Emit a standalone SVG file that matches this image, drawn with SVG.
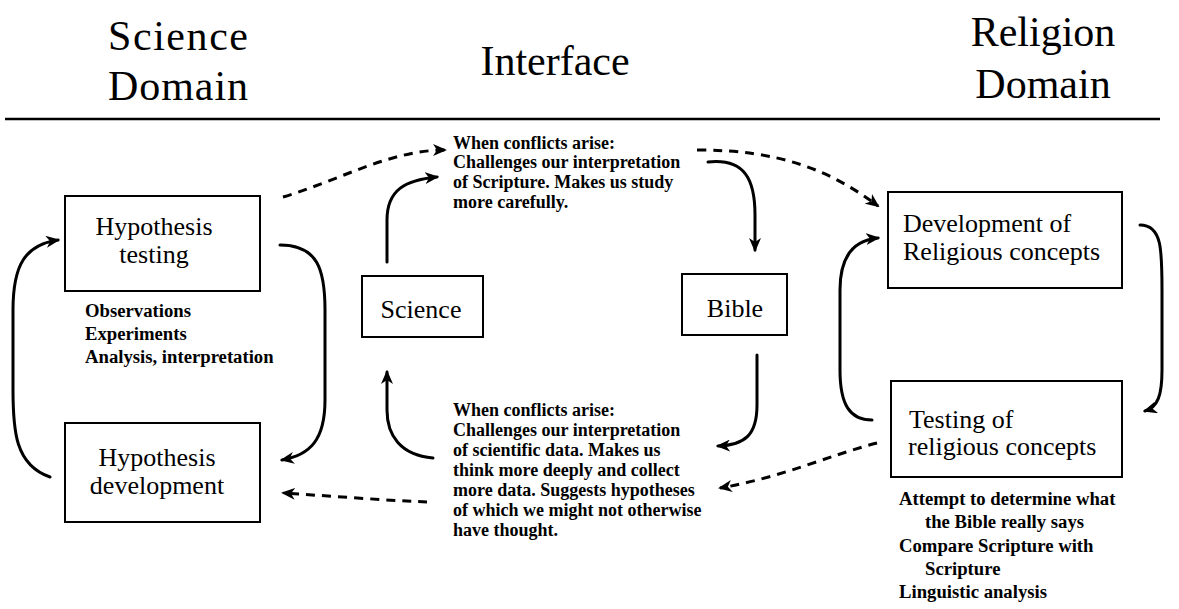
<svg xmlns="http://www.w3.org/2000/svg" width="1179" height="609" viewBox="0 0 1179 609">
<defs>
<style>
.title{font-family:"Liberation Serif","Times New Roman",serif;font-size:42px;fill:#000}
.box{fill:#fff;stroke:#000;stroke-width:2}
.bt{font-family:"Liberation Serif","Times New Roman",serif;font-size:26px;fill:#000}
.st{font-family:"Liberation Serif","Times New Roman",serif;font-size:18px;font-weight:bold;fill:#000}
.sm{font-family:"Liberation Serif","Times New Roman",serif;font-size:18.7px;font-weight:bold;fill:#000}
.c{fill:none;stroke:#000;stroke-width:3;stroke-linecap:round}
.d{fill:none;stroke:#000;stroke-width:3;stroke-dasharray:9 7}
</style>
<marker id="ah" viewBox="0 0 14 12" refX="12" refY="6" markerWidth="14" markerHeight="12" markerUnits="userSpaceOnUse" orient="auto">
<path d="M0,0 L14,6 L0,12 L4,6 z" fill="#000"/>
</marker>
</defs>
<rect width="1179" height="609" fill="#fff"/>
<g id="header">
<text class="title" x="108" y="50" textLength="140">Science</text>
<text class="title" x="108" y="100" textLength="140">Domain</text>
<text class="title" x="555" y="75" text-anchor="middle">Interface</text>
<text class="title" x="1043" y="46" text-anchor="middle">Religion</text>
<text class="title" x="1043" y="98" text-anchor="middle">Domain</text>
<line x1="5" y1="119" x2="1160" y2="119" stroke="#000" stroke-width="2.5"/>
</g>
<g id="hyp-testing">
<rect class="box" x="65" y="196" width="195" height="95"/>
<text class="bt" x="154" y="235" text-anchor="middle">Hypothesis</text>
<text class="bt" x="154" y="263" text-anchor="middle">testing</text>
<text class="sm" x="85" y="317">Observations</text>
<text class="sm" x="85" y="340">Experiments</text>
<text class="sm" x="85" y="363">Analysis, interpretation</text>
</g>
<g id="hyp-development">
<rect class="box" x="65" y="423" width="195" height="99"/>
<text class="bt" x="157" y="466" text-anchor="middle">Hypothesis</text>
<text class="bt" x="157" y="494" text-anchor="middle">development</text>
</g>
<g id="science">
<rect class="box" x="362" y="276" width="121" height="61"/>
<text class="bt" x="421" y="318" text-anchor="middle">Science</text>
</g>
<g id="bible">
<rect class="box" x="682" y="274" width="105" height="61"/>
<text class="bt" x="735" y="317" text-anchor="middle">Bible</text>
</g>
<g id="note-top">
<text class="st" x="453" y="149">When conflicts arise:</text>
<text class="st" x="453" y="168">Challenges our interpretation</text>
<text class="st" x="453" y="188">of Scripture.  Makes us study</text>
<text class="st" x="453" y="208">more carefully.</text>
</g>
<g id="note-bottom">
<text class="st" x="453" y="416">When conflicts arise:</text>
<text class="st" x="453" y="436">Challenges our interpretation</text>
<text class="st" x="453" y="456">of scientific data.  Makes us</text>
<text class="st" x="453" y="476">think more deeply and collect</text>
<text class="st" x="453" y="496">more data.  Suggests hypotheses</text>
<text class="st" x="453" y="516">of which we might not otherwise</text>
<text class="st" x="453" y="536">have thought.</text>
</g>
<g id="rel-development">
<rect class="box" x="888" y="192" width="234" height="96"/>
<text class="bt" x="903" y="232">Development of</text>
<text class="bt" x="903" y="260">Religious concepts</text>
</g>
<g id="rel-testing">
<rect class="box" x="891" y="381" width="231" height="96"/>
<text class="bt" x="909" y="428">Testing of</text>
<text class="bt" x="908" y="455">religious concepts</text>
<text class="sm" x="899" y="505">Attempt to determine what</text>
<text class="sm" x="925" y="528">the Bible really says</text>
<text class="sm" x="899" y="552">Compare Scripture with</text>
<text class="sm" x="925" y="575">Scripture</text>
<text class="sm" x="899" y="598">Linguistic analysis</text>
</g>
<g id="connectors">
<path class="c" d="M50,477 C15,465 13,430 13,390 L13,310 C13,265 25,245 58,240" marker-end="url(#ah)"/>
<path class="c" d="M280,245 C318,245 325,270 325,310 L325,400 C325,440 310,455 282,460" marker-end="url(#ah)"/>
<path class="d" d="M283,197 C340,180 390,150 445,150" marker-end="url(#ah)"/>
<path class="c" d="M387,262 L387,220 C387,190 405,180 437,177" marker-end="url(#ah)"/>
<path class="c" d="M708,162 C745,158 755,180 755,215 L755,250" marker-end="url(#ah)"/>
<path class="d" d="M697,150 C780,150 830,170 878,206" marker-end="url(#ah)"/>
<path class="c" d="M757,355 L757,405 C757,435 745,445 718,446" marker-end="url(#ah)"/>
<path class="c" d="M433,458 C400,455 387,435 387,410 L387,372" marker-end="url(#ah)"/>
<path class="d" d="M427,502 C380,500 330,496 283,493" marker-end="url(#ah)"/>
<path class="d" d="M877,443 C830,455 780,478 720,488" marker-end="url(#ah)"/>
<path class="c" d="M872,420 C850,420 840,405 840,370 L840,290 C840,255 855,240 878,238" marker-end="url(#ah)"/>
<path class="c" d="M1140,225 C1162,225 1162,250 1162,290 L1162,370 C1162,395 1158,407 1145,411" marker-end="url(#ah)"/>
</g>
</svg>
